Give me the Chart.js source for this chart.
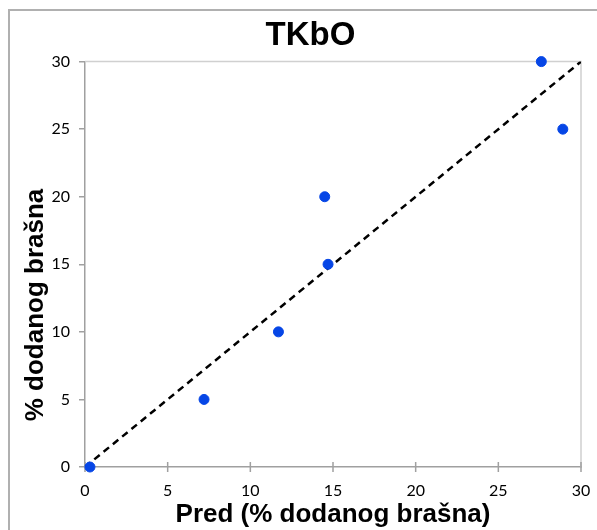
<!DOCTYPE html>
<html>
<head>
<meta charset="utf-8">
<title>TKbO</title>
<script src="https://cdn.jsdelivr.net/npm/chart.js@4.4.1/dist/chart.umd.min.js"></script>
<style>
    html, body { margin: 0; padding: 0; background: #fff; overflow: hidden; }
    #wrap { position: relative; width: 597px; height: 530px; }
    #frame { position: absolute; left: 8px; top: 9px; width: 640px; height: 580px; border: 2px solid #b0b0b0; box-sizing: border-box; pointer-events: none; }
</style>
</head>
<body>
<div id="wrap">
    <canvas id="chart" width="597" height="530"></canvas>
    <div id="frame"></div>
</div>
<script>
const predX = [0.3, 7.2, 11.7, 14.7, 14.5, 28.9, 27.6];
const addedY = [0, 5, 10, 15, 20, 25, 30];
const lineX = [0, 30];
const lineY = [0, 30];
const xTicks = [0, 5, 10, 15, 20, 25, 30];
const yTicks = [0, 5, 10, 15, 20, 25, 30];

const axisGray = "#a0a0a0";
const tickFont = { family: "Lato, 'Open Sans', sans-serif", size: 16 };

// okvir plot podrucja, oznake na x osi i naslov y osi
const extras = {
    id: "extras",
    beforeDatasetsDraw(chart) {
        const { ctx, chartArea, scales } = chart;
        ctx.save();
        ctx.strokeStyle = "#d0d0d0";
        ctx.lineWidth = 1.5;
        ctx.beginPath();
        ctx.moveTo(chartArea.left, chartArea.top);
        ctx.lineTo(chartArea.right, chartArea.top);
        ctx.lineTo(chartArea.right, chartArea.bottom);
        ctx.stroke();

        ctx.strokeStyle = axisGray;
        ctx.beginPath();
        xTicks.forEach(v => {
            const px = scales.x.getPixelForValue(v);
            ctx.moveTo(px, chartArea.bottom - 5);
            ctx.lineTo(px, chartArea.bottom + 5);
        });
        ctx.stroke();

        ctx.translate(36, 305);
        ctx.rotate(-Math.PI / 2);
        ctx.fillStyle = "#000";
        ctx.font = "bold 26px 'Liberation Sans', Arial, sans-serif";
        ctx.textAlign = "center";
        ctx.textBaseline = "middle";
        ctx.fillText("% dodanog brašna", 0, 0);
        ctx.restore();
    }
};

const ctx = document.getElementById("chart").getContext("2d");
const chart = new Chart(ctx, {
    type: "scatter",
    data: {
        datasets: [
            {
                data: predX.map((x, i) => ({ x: x, y: addedY[i] })),
                backgroundColor: "#0646e6",
                borderColor: "#0646e6",
                pointRadius: 5,
                pointHoverRadius: 5,
                clip: false,
            },
            {
                type: "line",
                data: lineX.map((x, i) => ({ x: x, y: lineY[i] })),
                borderColor: "#000",
                borderWidth: 2.5,
                borderDash: [7, 5],
                pointRadius: 0,
                fill: false,
            },
        ],
    },
    options: {
        responsive: false,
        animation: false,
        events: [],
        layout: { padding: { left: 40, right: 16, top: 0, bottom: 0 } },
        plugins: {
            legend: { display: false },
            tooltip: { enabled: false },
            title: {
                display: true,
                text: "TKbO",
                color: "#000",
                font: { family: "'Liberation Sans', Arial, sans-serif", size: 33, weight: "bold" },
                padding: { top: 16, bottom: 6 },
            },
        },
        scales: {
            x: {
                type: "linear",
                min: 0,
                max: 30,
                afterFit(scale) {
                    scale.height = 63;
                    scale.paddingLeft = 0;
                    scale.paddingRight = 0;
                },
                afterBuildTicks(scale) { scale.ticks = xTicks.map(v => ({ value: v })); },
                grid: { display: true, drawOnChartArea: false, drawTicks: false },
                border: { color: axisGray, width: 1.5 },
                ticks: {
                    padding: 14,
                    color: "#000",
                    font: tickFont,
                },
                title: {
                    display: true,
                    text: "Pred (% dodanog brašna)",
                    color: "#000",
                    font: { family: "'Liberation Sans', Arial, sans-serif", size: 26, weight: "bold" },
                    padding: { top: 0, bottom: 0 },
                },
            },
            y: {
                type: "linear",
                min: 0,
                max: 30,
                afterFit(scale) {
                    scale.width = 45;
                    scale.paddingTop = 0;
                    scale.paddingBottom = 0;
                },
                afterBuildTicks(scale) { scale.ticks = yTicks.map(v => ({ value: v })); },
                grid: { display: true, drawOnChartArea: false, drawTicks: true, tickLength: 6, color: axisGray, lineWidth: 1.5 },
                border: { color: axisGray, width: 1.5 },
                ticks: {
                    padding: 9,
                    color: "#000",
                    font: tickFont,
                },
            },
        },
    },
    plugins: [extras],
});
</script>
</body>
</html>
